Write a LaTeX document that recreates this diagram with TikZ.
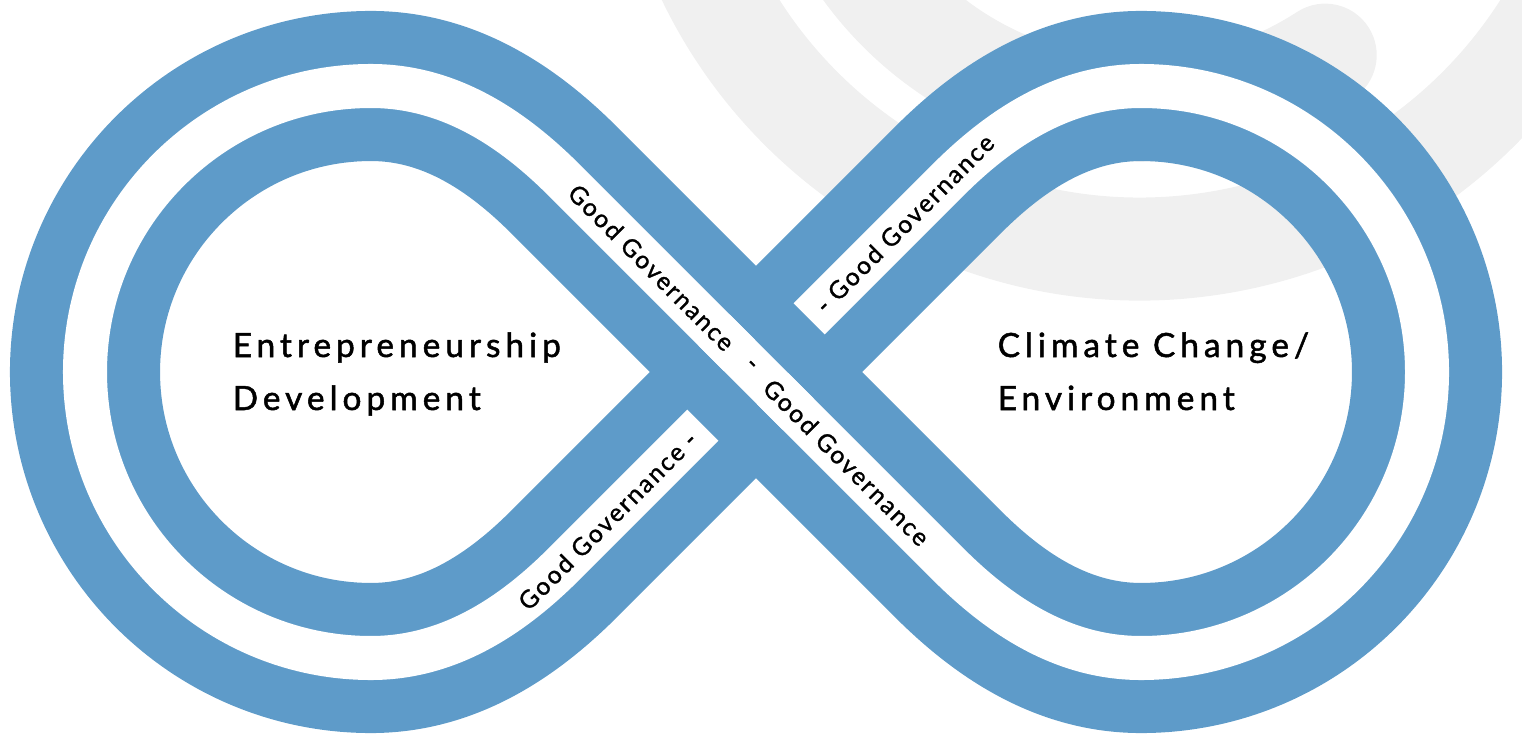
\documentclass[tikz,border=0pt]{standalone}
\usepackage{fontspec}
\setmainfont{Lato}
\newfontfamily\headfont{Lato}[LetterSpace=15,FakeBold=1.5]
\newfontfamily\govfont{Lato}[LetterSpace=8.5,FakeBold=1.2]
\definecolor{infblue}{RGB}{94,155,201}
\definecolor{wmgray}{RGB}{240,240,240}
\tikzset{bandblue/.style={draw=infblue,line width=1.5cm}}
\tikzset{bandgap/.style={draw=white,line width=0.44cm}}
\tikzset{wmark/.style={draw=wmgray,line width=1.03cm}}
\tikzset{hlabel/.style={anchor=base west,inner sep=0pt,font=\headfont\fontsize{9.5}{11}\selectfont}}
\tikzset{glabel/.style={inner sep=0pt,font=\govfont\fontsize{7}{8}\selectfont}}

\begin{document}
\begin{tikzpicture}[x=0.01cm,y=0.01cm]
    \useasboundingbox (0,0) rectangle (1522,736);
    \clip (0,0) rectangle (1522,736);

    % watermark arcs
    \draw[wmark] (1140,966) ++(-170:479) arc[start angle=-170,end angle=-5,radius=479];
    \draw[wmark,line cap=round] (1140,966) ++(-160:340) arc[start angle=-160,end angle=-57,radius=340];

    % the infinity band, blue first then the white gap
    \foreach \st in {bandblue,bandgap}
        \draw[\st] (564,556) .. controls (510,610) and (447,650) .. (371,650)
            arc[start angle=90,end angle=270,radius=286]
            .. controls (447,78) and (510,118) .. (564,172)
            -- (948,556) .. controls (1002,610) and (1065,650) .. (1141,650)
            arc[start angle=90,end angle=-90,radius=286]
            .. controls (1065,78) and (1002,118) .. (948,172) -- cycle;

    % NW-SE road passes over the other one
    \fill[infblue,rotate around={45:(756,364)}] (681,341) rectangle (831,387);
    \draw[bandgap] (714,406) -- (798,322);

    \node[glabel,rotate=-45] (gov1) at (651.5,468.5) {Good Governance};
    \node[glabel,rotate=-45] (gov2) at (750,370) {-};
    \node[glabel,rotate=-45] (gov3) at (846.5,273.5) {Good Governance};
    \node[glabel,rotate=45] (gov4) at (607.5,215.5) {Good Governance -};
    \node[glabel,rotate=45] (gov5) at (904.5,512.5) {- Good Governance};

    \node[hlabel] (ent1) at (232,379) {Entrepreneurship};
    \node[hlabel] (ent2) at (232,326) {Development};
    \node[hlabel] (cli1) at (997,379) {Climate Change/};
    \node[hlabel] (cli2) at (997,326) {Environment};
\end{tikzpicture}
\end{document}
